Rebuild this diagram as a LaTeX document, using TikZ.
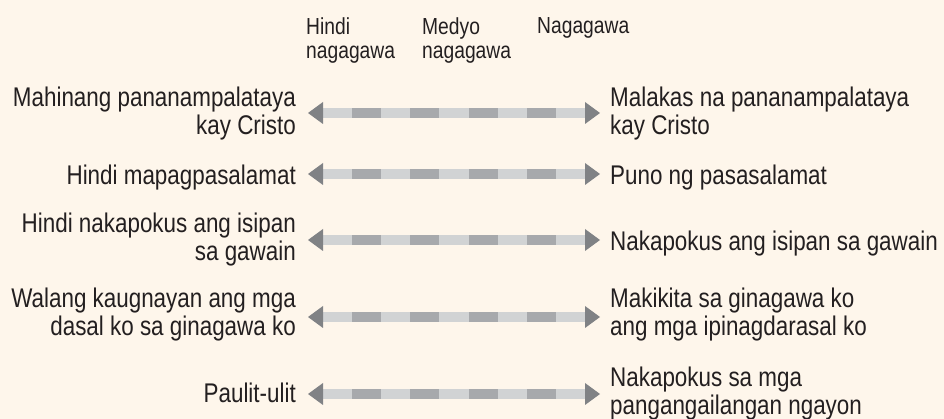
\documentclass[tikz,border=0pt]{standalone}
\usepackage{fontspec}
\setmainfont{Liberation Sans}[FakeStretch=0.83]
\definecolor{bg}{HTML}{FEF6EB}
\definecolor{ink}{HTML}{231F20}
\definecolor{barlight}{HTML}{D1D3D4}
\definecolor{bardark}{HTML}{A7A9AC}
\definecolor{headc}{HTML}{808285}
\newcommand\scalebar[2]{%
  \fill[barlight] ([shift={(15,-5)}]#1) rectangle ([shift={(-15,5)}]#2);
  \foreach \k in {1,3,5,7}{%
    \fill[bardark] ([shift={(15+\k*29.11,-5)}]#1) rectangle ([shift={(15+\k*29.11+29.11,5)}]#1);}
  \fill[headc] (#1) -- ([shift={(15,11)}]#1) -- ([shift={(15,-11)}]#1) -- cycle;
  \fill[headc] (#2) -- ([shift={(-15,11)}]#2) -- ([shift={(-15,-11)}]#2) -- cycle;
}
\begin{document}
\begin{tikzpicture}[x=1pt,y=1pt,
  lbl/.style={inner sep=0pt, text=ink, font=\fontsize{27}{28}\selectfont},
  lft/.style={lbl, anchor=north east, align=right},
  rgt/.style={lbl, anchor=north west, align=left},
  hdr/.style={inner sep=0pt, text=ink, font=\fontsize{23.2}{24}\selectfont, align=left, anchor=north west}]
\fill[bg] (0,0) rectangle (944,419);
\useasboundingbox (0,0) rectangle (944,419);

% header
\node[hdr] (h1) at (306,402) {Hindi\\nagagawa};
\node[hdr] (h2) at (422,402) {Medyo\\nagagawa};
\node[hdr] (h3) at (537,402) {Nagagawa};

% row 1
\node[lft] (l1) at (296,332) {Mahinang pananampalataya\\kay Cristo};
\node[rgt] (r1) at (610,332) {Malakas na pananampalataya\\kay Cristo};
\coordinate (a1l) at (308,306);
\coordinate (a1r) at (600,306);
\scalebar{a1l}{a1r}

% row 2
\node[lft] (l2) at (296,254) {Hindi mapagpasalamat};
\node[rgt] (r2) at (610,254) {Puno ng pasasalamat};
\coordinate (a2l) at (308,245);
\coordinate (a2r) at (600,245);
\scalebar{a2l}{a2r}

% row 3
\node[lft] (l3) at (296,206) {Hindi nakapokus ang isipan\\sa gawain};
\node[rgt] (r3) at (610,188) {Nakapokus ang isipan sa gawain};
\coordinate (a3l) at (308,179);
\coordinate (a3r) at (600,179);
\scalebar{a3l}{a3r}

% row 4
\node[lft] (l4) at (296,131) {Walang kaugnayan ang mga\\dasal ko sa ginagawa ko};
\node[rgt] (r4) at (610,131) {Makikita sa ginagawa ko\\ang mga ipinagdarasal ko};
\coordinate (a4l) at (308,102);
\coordinate (a4r) at (600,102);
\scalebar{a4l}{a4r}

% row 5
\node[lft] (l5) at (296,36) {Paulit-ulit};
\node[rgt] (r5) at (610,52) {Nakapokus sa mga\\pangangailangan ngayon};
\coordinate (a5l) at (308,25);
\coordinate (a5r) at (600,25);
\scalebar{a5l}{a5r}
\end{tikzpicture}
\end{document}
